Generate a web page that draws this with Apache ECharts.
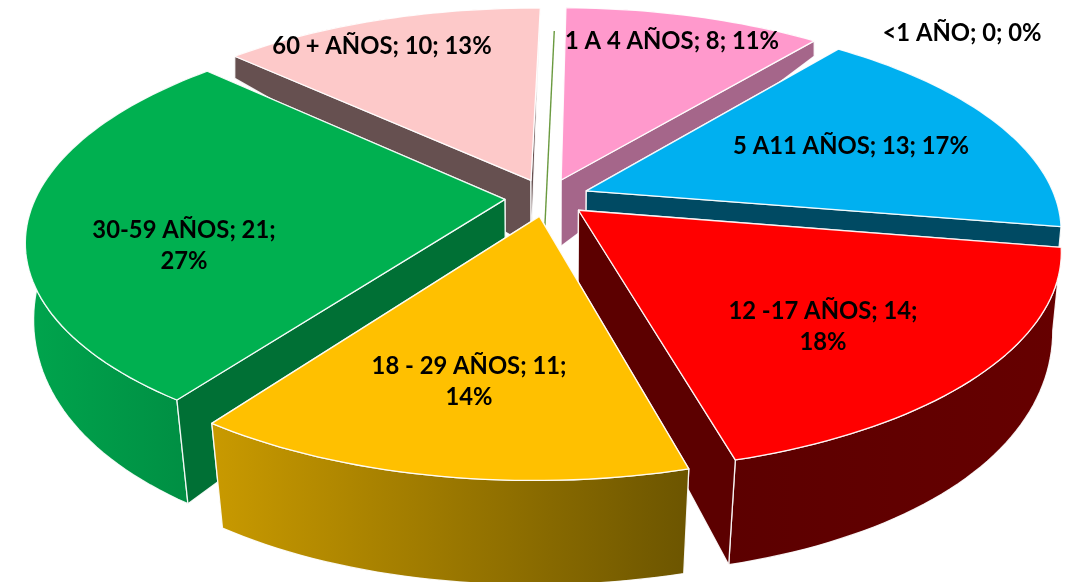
<!DOCTYPE html>
<html>
<head>
<meta charset="utf-8">
<style>
html, body { margin: 0; padding: 0; background: #fff; }
#main { width: 1071px; height: 582px; }
</style>
<script src="https://cdn.jsdelivr.net/npm/echarts@6/dist/echarts.min.js"></script>
</head>
<body>
<div id="main"></div>
<script>
// data
var categories = ['<1 AÑO', '1 A 4 AÑOS', '5 A11 AÑOS', '12 -17 AÑOS', '18 - 29 AÑOS', '30-59 AÑOS', '60 + AÑOS'];
var values = [0, 8, 13, 14, 11, 21, 10];
var percents = [0, 11, 17, 18, 14, 27, 13];

// styles per slice
var topColors = ['#70ad47', '#ff99cc', '#00b0f0', '#ff0000', '#ffc000', '#00b050', '#fdc9c9'];
var cutColors = ['#4f7a32', '#a5668a', '#004a63', '#5c0000', '#8a6c00', '#007035', '#665050'];
var wallColors = [
    ['#4f7a32', '#4f7a32'],
    ['#a5668a', '#a5668a'],
    ['#004a63', '#004a63'],
    ['#5c0000', '#660000'],
    ['#c99a00', '#6c5500'],
    ['#00a54d', '#008c42'],
    ['#665050', '#665050']
];
// back slices are painted first
var paintOrder = [1, 6, 0, 2, 5, 3, 4];
var labelPos = [[962, 33], [672, 41], [851, 146], [823, 327], [469, 382], [184, 246], [382, 46]];
var labelBreak = [false, false, false, true, true, true, false];

// view of the disc
var cx = 547, cy = 197.5, Rx = 469, Ry = 209, k = 0.18, shear = 0.012, explode = 0.09;
var total = values.reduce(function (a, b) { return a + b; }, 0);

// value share -> angle on the disc, with the small skew the 3d view has
function shareAngle(share) {
    var a = share * 2 * Math.PI;
    return a + (0.7 + 0.8 * Math.sin(a)) * Math.PI / 180;
}

function project(u, v) {
    var w = 1 + k * v;
    var y = cy - Ry * v / w;
    return [cx + Rx * u / w - shear * (y - cy), y];
}

// the base of the pie, the drop gets bigger towards the viewer
function drop(p) {
    var d = -3.4 + 0.485 * p[1] - 0.000543 * p[1] * p[1];
    var s = 1 - 0.035 * Math.max(0, (p[1] - 60) / 400);
    return [cx + (p[0] - cx) * s, p[1] + d];
}

function polygon(points, fill, z2) {
    return {
        type: 'polygon',
        shape: { points: points },
        z2: z2,
        style: { fill: fill, stroke: 'rgba(255,255,255,0.9)', lineWidth: 1.3, lineJoin: 'round' }
    };
}

function renderSlice(params, api) {
    var i = params.dataIndex;
    var val = api.value(0);
    var before = 0;
    for (var n = 0; n < i; n++) before += values[n];
    var a0 = shareAngle(before / total);
    var a1 = shareAngle((before + val) / total);
    var mid = (a0 + a1) / 2;
    var ox = explode * Math.sin(mid), oy = explode * Math.cos(mid);
    var apex = project(ox, oy);
    var z = paintOrder.indexOf(i) * 10 + 1;
    var children = [];

    if (val === 0) {
        // empty slice is only a thin line
        children.push({
            type: 'polyline',
            shape: { points: [project(ox - 0.006, oy - 0.3), project(ox + 0.012, oy + 0.84)] },
            z2: z,
            style: { stroke: '#6a9a3f', lineWidth: 1.4, fill: null }
        });
    } else {
        var rim = [], rimDrop = [];
        var steps = Math.max(8, Math.round((a1 - a0) * 40));
        for (var s = 0; s <= steps; s++) {
            var t = a0 + (a1 - a0) * s / steps;
            var p = project(ox + Math.sin(t), oy + Math.cos(t));
            rim.push(p);
            rimDrop.push(drop(p));
        }
        var apexDrop = drop(apex);
        var cut0 = polygon([apex, rim[0], rimDrop[0], apexDrop], cutColors[i], Math.sin(a0) < 0 ? z + 2 : z);
        var cut1 = polygon([apex, rim[steps], rimDrop[steps], apexDrop], cutColors[i], Math.sin(a1) > 0 ? z + 2 : z);
        children.push(cut0, cut1);
        children.push(polygon(rim.concat(rimDrop.slice().reverse()),
            new echarts.graphic.LinearGradient(0, 0, 1, 0, [
                { offset: 0, color: wallColors[i][0] },
                { offset: 1, color: wallColors[i][1] }
            ]), z + 1));
        children.push(polygon([apex].concat(rim), topColors[i], z + 3));
    }

    var text = categories[i] + '; ' + val + ';' + (labelBreak[i] ? '\n' : ' ') + percents[i] + '%';
    children.push({
        type: 'text',
        x: labelPos[i][0],
        y: labelPos[i][1],
        z2: 500,
        style: {
            text: text,
            fill: '#000',
            font: 'bold 23.8px Lato, sans-serif',
            align: 'center',
            verticalAlign: 'middle',
            lineHeight: 31
        }
    });
    return { type: 'group', children: children };
}

var myChart = echarts.init(document.getElementById('main'));
var option = {
    animation: false,
    backgroundColor: '#fff',
    series: [{
        type: 'custom',
        coordinateSystem: 'none',
        renderItem: renderSlice,
        data: values.map(function (v, i) { return { name: categories[i], value: [v] }; })
    }]
};
myChart.setOption(option);
</script>
</body>
</html>
